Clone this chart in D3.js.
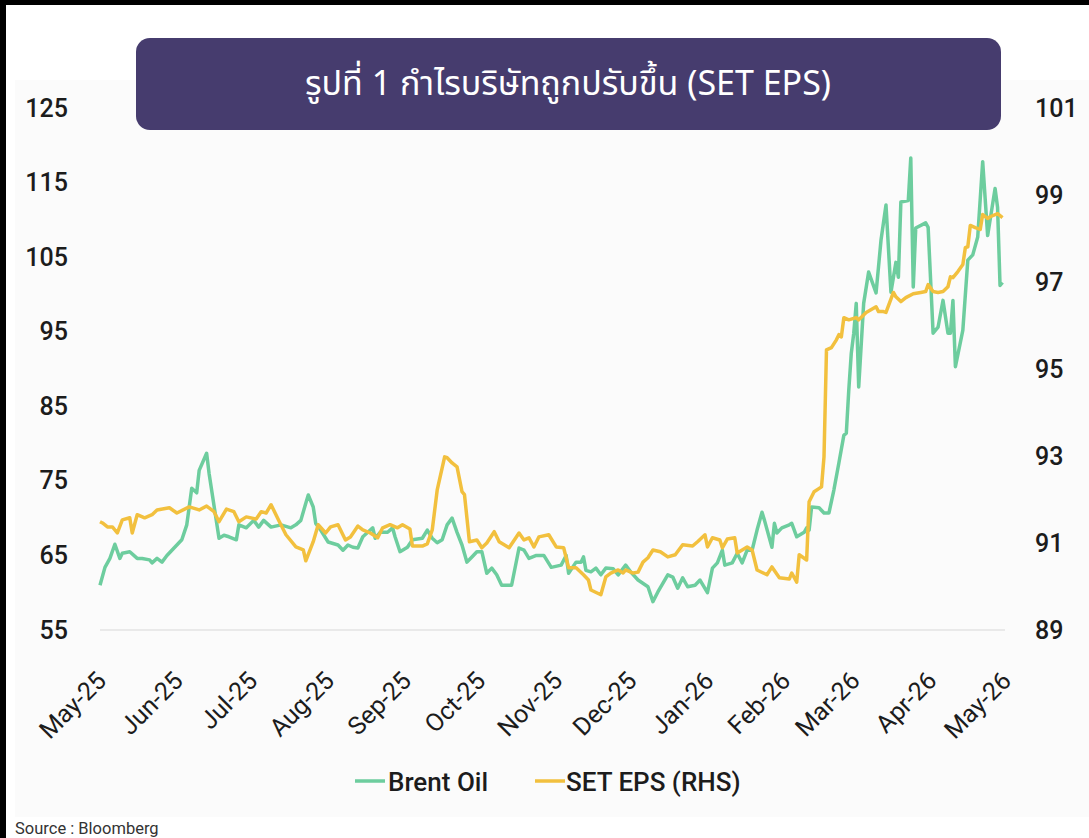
<!DOCTYPE html>
<html>
<head>
<meta charset="utf-8">
<script src="https://cdn.jsdelivr.net/npm/d3@7"></script>
<style>
  html, body { margin: 0; padding: 0; background: #000; }
  svg { display: block; }
</style>
</head>
<body>
<svg id="chart" width="1089" height="838"></svg>
<script>
// ---------------- DATA ----------------
const titleText = "รูปที่ 1 กำไรบริษัทถูกปรับขึ้น (SET EPS)";
const sourceText = "Source : Bloomberg";
const seriesNames = ["Brent Oil", "SET EPS (RHS)"];
const leftTicks = [55, 65, 75, 85, 95, 105, 115, 125];
const rightTicks = [89, 91, 93, 95, 97, 99, 101];
const monthTicks = ["2025-05-01","2025-06-01","2025-07-01","2025-08-01","2025-09-01","2025-10-01",
  "2025-11-01","2025-12-01","2026-01-01","2026-02-01","2026-03-01","2026-04-01","2026-05-01"];

const brentDates = ["2025-05-01","2025-05-03","2025-05-05","2025-05-07","2025-05-09","2025-05-10","2025-05-13","2025-05-16","2025-05-18","2025-05-21",
  "2025-05-22","2025-05-24","2025-05-26","2025-05-28","2025-05-30","2025-06-01","2025-06-03","2025-06-05","2025-06-07","2025-06-09",
  "2025-06-10","2025-06-13","2025-06-14","2025-06-18","2025-06-20","2025-06-22","2025-06-25","2025-06-26","2025-06-29","2025-07-02",
  "2025-07-04","2025-07-06","2025-07-09","2025-07-13","2025-07-17","2025-07-19","2025-07-21","2025-07-23","2025-07-24","2025-07-26",
  "2025-07-27","2025-07-29","2025-08-01","2025-08-05","2025-08-07","2025-08-09","2025-08-11","2025-08-13","2025-08-15","2025-08-17",
  "2025-08-19","2025-08-20","2025-08-22","2025-08-25","2025-08-27","2025-08-28","2025-08-30","2025-09-02","2025-09-04","2025-09-08",
  "2025-09-10","2025-09-12","2025-09-14","2025-09-16","2025-09-18","2025-09-20","2025-09-22","2025-09-24","2025-09-26","2025-09-28",
  "2025-09-30","2025-10-02","2025-10-04","2025-10-06","2025-10-08","2025-10-10","2025-10-14","2025-10-17","2025-10-19","2025-10-21",
  "2025-10-24","2025-10-27","2025-10-30","2025-11-03","2025-11-05","2025-11-06","2025-11-09","2025-11-11","2025-11-12","2025-11-13",
  "2025-11-15","2025-11-17","2025-11-19","2025-11-21","2025-11-24","2025-11-26","2025-11-29","2025-12-01","2025-12-04","2025-12-08",
  "2025-12-10","2025-12-12","2025-12-16","2025-12-18","2025-12-20","2025-12-22","2025-12-24","2025-12-27","2025-12-29","2026-01-01",
  "2026-01-03","2026-01-05","2026-01-07","2026-01-08","2026-01-11","2026-01-13","2026-01-15","2026-01-17","2026-01-19","2026-01-21",
  "2026-01-23","2026-01-24","2026-01-27","2026-01-28","2026-01-29","2026-01-31","2026-02-03","2026-02-04","2026-02-06","2026-02-09",
  "2026-02-10","2026-02-11","2026-02-12","2026-02-15","2026-02-17","2026-02-19","2026-02-21","2026-02-23","2026-02-25","2026-02-26",
  "2026-02-27","2026-02-28","2026-03-01","2026-03-02","2026-03-03","2026-03-05","2026-03-07","2026-03-10","2026-03-12","2026-03-14",
  "2026-03-16","2026-03-18","2026-03-19","2026-03-20","2026-03-23","2026-03-24","2026-03-25","2026-03-26","2026-03-30","2026-03-31",
  "2026-04-02","2026-04-03","2026-04-04","2026-04-06","2026-04-08","2026-04-09","2026-04-10","2026-04-11","2026-04-14","2026-04-16",
  "2026-04-18","2026-04-20","2026-04-22","2026-04-24","2026-04-27","2026-04-28","2026-04-29","2026-04-30"];
const brentValues = [61.0,63.4,64.6,66.5,64.6,65.3,65.5,64.6,64.6,64.4,
  64.0,64.6,64.1,65.0,65.7,66.4,67.1,69.1,74.0,73.4,
  76.4,78.7,76.0,67.3,67.7,67.5,67.1,69.1,68.7,69.7,
  68.8,69.7,68.8,69.1,68.7,69.1,69.7,72.0,73.1,71.5,
  69.3,68.4,66.8,66.4,65.7,66.4,66.1,66.0,67.5,68.1,
  68.7,67.3,68.1,68.1,68.7,67.5,65.5,66.1,67.1,67.3,
  68.4,67.3,66.7,67.1,69.1,70.0,68.1,66.4,64.1,64.8,
  65.5,65.5,62.6,63.3,62.4,61.0,61.0,66.0,65.7,64.6,
  65.0,65.0,63.4,63.7,65.0,62.6,64.1,64.1,64.8,63.0,
  62.8,63.3,62.4,63.3,63.2,62.4,63.7,62.8,61.7,60.8,
  58.8,60.1,62.4,62.1,60.6,62.0,60.8,61.0,61.7,60.0,
  63.3,64.0,65.7,63.7,64.0,65.3,64.0,65.7,65.7,68.4,
  70.8,69.7,66.1,69.3,68.0,68.7,69.1,69.3,67.5,68.1,
  68.7,68.4,71.5,71.4,70.7,70.7,73.8,77.4,81.1,81.4,
  87.2,92.1,94.8,98.8,87.6,98.8,103.0,100.2,107.3,112.0,
  100.3,104.3,102.3,112.4,112.6,118.3,101.0,108.9,109.6,109.0,
  94.8,95.2,95.6,99.2,94.8,94.8,99.2,90.3,95.2,104.6,
  105.3,107.7,117.8,107.9,114.2,111.7,101.2,101.6];

const epsDates = ["2025-05-01","2025-05-02","2025-05-04","2025-05-06","2025-05-08","2025-05-10","2025-05-13","2025-05-14","2025-05-16","2025-05-19",
  "2025-05-22","2025-05-24","2025-05-29","2025-06-01","2025-06-06","2025-06-10","2025-06-13","2025-06-16","2025-06-18","2025-06-21",
  "2025-06-24","2025-06-26","2025-06-29","2025-07-03","2025-07-05","2025-07-07","2025-07-09","2025-07-12","2025-07-15","2025-07-19",
  "2025-07-22","2025-07-23","2025-07-26","2025-07-28","2025-07-31","2025-08-02","2025-08-05","2025-08-08","2025-08-10","2025-08-13",
  "2025-08-15","2025-08-18","2025-08-21","2025-08-23","2025-08-26","2025-08-29","2025-08-31","2025-09-03","2025-09-04","2025-09-08",
  "2025-09-10","2025-09-12","2025-09-14","2025-09-17","2025-09-18","2025-09-20","2025-09-22","2025-09-24","2025-09-25","2025-09-27",
  "2025-09-30","2025-10-02","2025-10-04","2025-10-07","2025-10-09","2025-10-13","2025-10-17","2025-10-19","2025-10-21","2025-10-23",
  "2025-10-25","2025-10-29","2025-11-01","2025-11-04","2025-11-06","2025-11-09","2025-11-12","2025-11-14","2025-11-15","2025-11-19",
  "2025-11-21","2025-11-23","2025-11-26","2025-11-28","2025-11-29","2025-12-02","2025-12-04","2025-12-06","2025-12-08","2025-12-10",
  "2025-12-13","2025-12-16","2025-12-19","2025-12-22","2025-12-26","2025-12-28","2025-12-31","2026-01-01","2026-01-03","2026-01-06",
  "2026-01-07","2026-01-09","2026-01-12","2026-01-13","2026-01-17","2026-01-19","2026-01-21","2026-01-25","2026-01-27","2026-01-30",
  "2026-02-03","2026-02-04","2026-02-06","2026-02-07","2026-02-10","2026-02-11","2026-02-13","2026-02-16","2026-02-17","2026-02-18",
  "2026-02-20","2026-02-22","2026-02-23","2026-02-24","2026-02-25","2026-02-27","2026-03-02","2026-03-03","2026-03-06","2026-03-10",
  "2026-03-11","2026-03-13","2026-03-14","2026-03-17","2026-03-18","2026-03-20","2026-03-22","2026-03-25","2026-03-28","2026-03-30",
  "2026-03-31","2026-04-02","2026-04-04","2026-04-06","2026-04-08","2026-04-09","2026-04-10","2026-04-12","2026-04-14","2026-04-15",
  "2026-04-16","2026-04-17","2026-04-19","2026-04-21","2026-04-22","2026-04-24","2026-04-25","2026-04-28","2026-04-30"];
const epsValues = [91.49,91.46,91.37,91.37,91.23,91.53,91.58,91.23,91.65,91.58,
  91.65,91.76,91.81,91.69,91.83,91.76,91.85,91.72,91.49,91.78,
  91.72,91.49,91.60,91.55,91.72,91.69,91.88,91.53,91.19,90.91,
  90.84,90.59,91.03,91.42,91.23,91.37,91.42,91.07,91.14,91.39,
  91.30,91.23,91.12,91.35,91.42,91.35,91.42,91.32,90.93,90.93,
  90.98,91.30,92.22,92.98,92.96,92.84,92.75,92.18,92.11,91.03,
  91.07,90.89,91.00,91.26,91.03,90.89,91.23,91.07,91.12,90.91,
  91.14,91.19,90.91,90.89,90.43,90.43,90.27,90.15,89.92,89.81,
  90.22,90.31,90.38,90.31,90.38,90.31,90.33,90.56,90.66,90.84,
  90.80,90.68,90.73,90.96,90.93,91.03,91.19,90.91,91.12,91.07,
  90.89,91.09,91.12,90.77,90.91,90.84,90.38,90.27,90.45,90.20,
  90.17,90.31,90.10,90.73,90.61,91.95,92.18,92.29,92.98,95.44,
  95.49,95.67,95.79,95.74,96.18,96.13,96.18,96.13,96.30,96.43,
  96.32,96.32,96.30,96.76,96.66,96.55,96.64,96.73,96.76,96.78,
  96.94,96.78,96.76,96.78,96.89,97.12,97.10,97.24,97.40,97.79,
  97.81,98.30,98.25,98.21,98.55,98.46,98.50,98.57,98.48];

// ---------------- STYLE ----------------
const W = 1089, H = 838;
const green = "#6dcd9e", orange = "#f2c03e";
const fontUI = "Roboto, 'Liberation Sans', Arial, sans-serif";
const parse = d3.utcParse("%Y-%m-%d");

const svg = d3.select("#chart");

// background: black frame at top/left, white page, faint grey chart panel
svg.append("rect").attr("x", 6).attr("y", 5).attr("width", W - 6).attr("height", H - 5).attr("fill", "#ffffff");
svg.append("rect").attr("x", 15).attr("y", 80).attr("width", W - 15).attr("height", 737).attr("fill", "#fbfbfb");

const x = d3.scaleUtc().domain([parse("2025-05-01"), parse("2026-05-01")]).range([100, 1005]);
const yL = d3.scaleLinear().domain([55, 125]).range([630, 108]);
const yR = d3.scaleLinear().domain([89, 101]).range([630, 108]);

// baseline
svg.append("line").attr("x1", 100).attr("x2", 1005).attr("y1", yL(55)).attr("y2", yL(55))
  .attr("stroke", "#e3e3e3").attr("stroke-width", 1.5);

// axes
const axL = svg.append("g").attr("transform", "translate(100,0)")
  .call(d3.axisLeft(yL).tickValues(leftTicks).tickSize(0).tickPadding(32).tickFormat(d3.format("d")));
const axR = svg.append("g").attr("transform", "translate(1005,0)")
  .call(d3.axisRight(yR).tickValues(rightTicks).tickSize(0).tickPadding(30).tickFormat(d3.format("d")));
const axX = svg.append("g").attr("transform", `translate(0,${yL(55)})`)
  .call(d3.axisBottom(x).tickValues(monthTicks.map(parse)).tickSize(0).tickFormat(d3.utcFormat("%b-%y")));
[axL, axR, axX].forEach(g => {
  g.select(".domain").remove();
  g.selectAll("text").attr("font-family", fontUI).attr("font-size", 25).attr("font-weight", 500).attr("fill", "#1c1c1c");
});
axX.selectAll("text")
  .attr("font-weight", 400)
  .attr("text-anchor", "end").attr("x", 0).attr("y", 0).attr("dy", "0.35em")
  .attr("transform", "translate(1,46) rotate(-45)");

// lines
const brent = brentDates.map((d, i) => ({ date: parse(d), v: brentValues[i] }));
const eps = epsDates.map((d, i) => ({ date: parse(d), v: epsValues[i] }));
svg.append("path").datum(brent)
  .attr("d", d3.line().x(d => x(d.date)).y(d => yL(d.v)))
  .attr("fill", "none").attr("stroke", green).attr("stroke-width", 3.5).attr("stroke-linejoin", "round");
svg.append("path").datum(eps)
  .attr("d", d3.line().x(d => x(d.date)).y(d => yR(d.v)))
  .attr("fill", "none").attr("stroke", orange).attr("stroke-width", 3.5).attr("stroke-linejoin", "round");

// title box
svg.append("rect").attr("x", 136).attr("y", 38).attr("width", 865).attr("height", 92)
  .attr("rx", 14).attr("fill", "#463c6e");
svg.append("text").attr("x", 568).attr("y", 86).attr("text-anchor", "middle").attr("dominant-baseline", "middle")
  .attr("font-family", "'Noto Sans Thai', 'Noto Sans', 'DejaVu Sans', sans-serif")
  .attr("font-size", 34).attr("fill", "#ffffff").text(titleText);

// legend
const legend = [
  { name: seriesNames[0], color: green, x0: 355, tx: 388 },
  { name: seriesNames[1], color: orange, x0: 535, tx: 566 }
];
const lg = svg.append("g");
legend.forEach(l => {
  lg.append("line").attr("x1", l.x0).attr("x2", l.x0 + 30).attr("y1", 781).attr("y2", 781)
    .attr("stroke", l.color).attr("stroke-width", 3.5);
  lg.append("text").attr("x", l.tx).attr("y", 791).attr("font-family", fontUI).attr("font-size", 26)
    .attr("font-weight", 500).attr("fill", "#1c1c1c").text(l.name);
});

// source
svg.append("text").attr("x", 15).attr("y", 834).attr("font-family", fontUI).attr("font-size", 16.5)
  .attr("fill", "#333").text(sourceText);
</script>
</body>
</html>
